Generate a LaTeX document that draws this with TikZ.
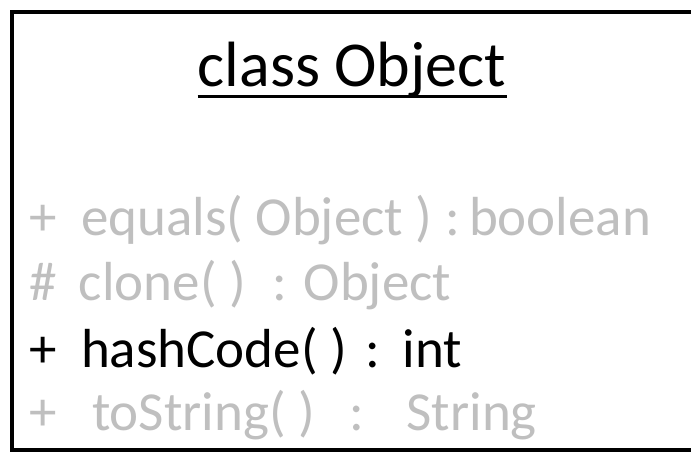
\documentclass[tikz,border=0pt]{standalone}
\usepackage{fontspec}
\setmainfont{Carlito}
\usepackage{tikz}
\definecolor{INK}{HTML}{000000}
\definecolor{FADED}{HTML}{BFBFBF}

\begin{document}
\begin{tikzpicture}[x=1pt,y=-1pt]
\tikzset{frame/.style={line width=4pt,INK},
 titletext/.style={font=\fontsize{64}{64}\selectfont,INK,inner sep=0pt,anchor=base},
 member/.style={font=\fontsize{55}{55}\selectfont,inner sep=0pt,anchor=base west},
 uline/.style={line width=3pt,INK}}
\useasboundingbox (0,0) rectangle (691,454);
\fill[white] (0,0) rectangle (691,454);
\clip (0,0) rectangle (691,454);
\draw[frame] (12,12) rectangle (760,450);
\node[titletext] (title) at (352,87) {class Object};
\draw[uline] ([yshift=-9.5pt]title.base west) -- ([yshift=-9.5pt]title.base east);
\node[member,FADED] (equals) at (29,236) {+\hspace{12pt} equals( Object )\hspace{1pt} :\hspace{-8pt} boolean};
\node[member,FADED] (clone) at (29,301) {\#\hspace{10pt} clone( )\hspace{14pt} : Object};
\node[member,INK] (hash) at (29,367) {+\hspace{12pt} hashCode( )\hspace{6pt} :\hspace{6pt} int};
\node[member,FADED] (tostr) at (29,430) {+\hspace{23pt} toString( )\hspace{22pt} :\hspace{26pt} String};
\end{tikzpicture}
\end{document}
